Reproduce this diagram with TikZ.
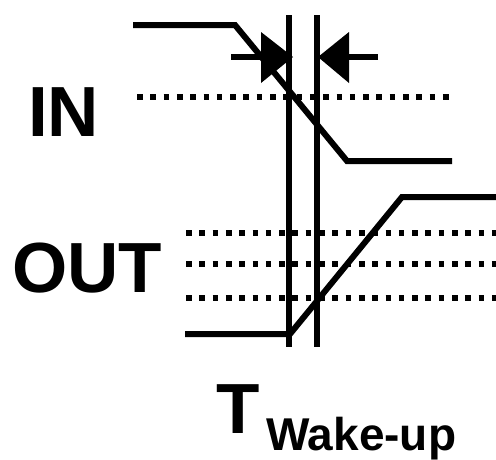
\documentclass[tikz,border=0pt]{standalone}
\usepackage{fontspec}
\setmainfont{Liberation Sans}
\begin{document}
\begin{tikzpicture}[x=1pt,y=-1pt,
  wave/.style={line width=6pt},
  vline/.style={line width=6pt},
  dotline/.style={line width=5.6pt,dash pattern=on 5.6pt off 7.7pt},
  head/.style={fill=black},
  lbl/.style={inner sep=0pt,anchor=base west,font=\bfseries\fontsize{71}{71}\selectfont},
  sublbl/.style={inner sep=0pt,anchor=base west,font=\bfseries\fontsize{46}{46}\selectfont}]
\useasboundingbox (0,0) rectangle (496,459);
% coordinates
\coordinate (inA) at (133,25);
\coordinate (inB) at (235,25);
\coordinate (inC) at (347,161);
\coordinate (inD) at (452,161);
\coordinate (outA) at (185,334);
\coordinate (outB) at (290,334);
\coordinate (outC) at (402,197);
\coordinate (outD) at (496,197);
\coordinate (v1t) at (289,15);
\coordinate (v1b) at (289,347);
\coordinate (v2t) at (317,15);
\coordinate (v2b) at (317,347);
% dotted thresholds
\draw[dotline] (137,97) -- (452,97);
\draw[dotline] (186,233) -- (496,233);
\draw[dotline] (186,264) -- (496,264);
\draw[dotline] (186,298) -- (496,298);
% waveforms
\draw[wave] (inA) -- (inB) -- (inC) -- (inD);
\draw[wave] (outA) -- (outB) -- (outC) -- (outD);
% vertical markers
\draw[vline] (v1t) -- (v1b);
\draw[vline] (v2t) -- (v2b);
% arrows
\coordinate (aL) at (231,57);
\coordinate (aR) at (378,57);
\draw[line width=6pt] (aL) -- (264,57);
\fill[head] (261,32) -- (293,57) -- (261,83) -- cycle;
\draw[line width=6pt] (aR) -- (346,57);
\fill[head] (349,32) -- (318,57) -- (349,83) -- cycle;
% labels
\node[lbl] (in) at (28,136) {IN};
\node[lbl] (out) at (12,292) {OUT};
\node[lbl] (t) at (216,433) {T};
\node[sublbl] (tw) at (266,450) {Wake-up};
\end{tikzpicture}
\end{document}
